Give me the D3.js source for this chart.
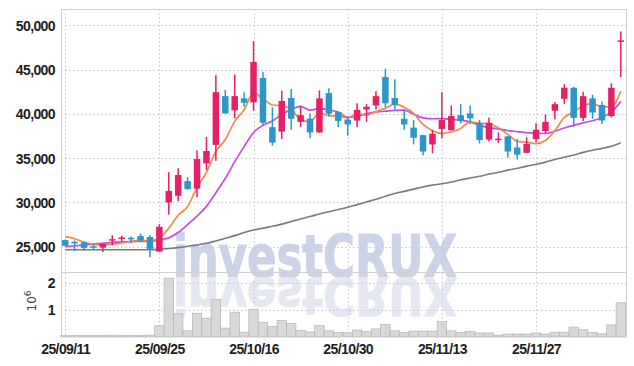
<!DOCTYPE html>
<html>
<head>
<meta charset="utf-8">
<script src="https://cdn.jsdelivr.net/npm/d3@7/dist/d3.min.js"></script>
<style>
  body { margin: 0; background: #fff; }
  svg { display: block; }
</style>
</head>
<body>
<div id="chart"></div>
<script>
// trading days (yy/mm/dd)
var dates = ["25/09/11","25/09/12","25/09/15","25/09/16","25/09/17","25/09/18","25/09/19","25/09/22","25/09/23","25/09/24",
             "25/09/25","25/09/26","25/09/29","25/09/30","25/10/01","25/10/02","25/10/10","25/10/13","25/10/14","25/10/15",
             "25/10/16","25/10/17","25/10/20","25/10/21","25/10/22","25/10/23","25/10/24","25/10/27","25/10/28","25/10/29",
             "25/10/30","25/10/31","25/11/03","25/11/04","25/11/05","25/11/06","25/11/07","25/11/10","25/11/11","25/11/12",
             "25/11/13","25/11/14","25/11/17","25/11/18","25/11/19","25/11/20","25/11/21","25/11/24","25/11/25","25/11/26",
             "25/11/27","25/11/28","25/12/01","25/12/02","25/12/03","25/12/04","25/12/05","25/12/08","25/12/09","25/12/10"];

var open  = [25750,25550,25500,25050,24900,25700,25950,26000,26200,26100,24450,30000,30750,32400,31550,34400,36500,42000,40400,41750,
             41300,44050,38500,38000,41800,39100,39450,37900,42350,40200,39350,39250,40500,40950,44150,41800,39450,38450,37600,36550,
             38300,38150,39850,40050,38950,37100,37150,37450,36200,35600,37150,38050,40350,41700,42950,39550,41750,41000,39750,48200];
var high  = [25800,25700,25550,25300,25350,26300,26250,26150,26500,26300,27550,33400,33850,32850,35900,37400,44350,42700,44450,42450,
             48200,44750,40750,42600,42800,40900,40050,42650,42900,40300,39750,41200,41100,42550,45100,43900,40500,39300,37650,38200,
             42450,40950,41100,40950,39300,39600,37900,37500,37200,37350,38950,39950,41350,43350,43050,42500,42150,41400,43450,49300];
var low   = [25050,24500,24550,24600,24400,25150,25600,25400,25650,23800,24400,28600,30150,31450,30600,33650,34700,40000,39500,40800,
             40350,38650,36400,37150,38200,38500,37250,37850,39700,38500,37550,38500,39100,40500,40750,40500,38200,36550,35300,35550,
             37250,38100,38950,38850,36650,36900,36700,35050,34850,35600,36800,37800,39400,41100,38550,39200,39450,38850,39600,44150];
var close = [25100,25450,24870,24950,25300,25850,26050,25900,25700,24750,27250,31300,33100,31500,34900,35800,42450,40050,42000,41250,
             45850,39000,36750,41450,39450,39850,37900,41750,40000,39200,38800,40450,40800,42000,41200,41000,38800,37300,35750,37750,
             39300,39750,39250,39500,37050,39000,37200,35750,35400,36600,38200,39100,41100,42950,39550,42000,40150,39250,42950,48300];

// volume in millions of shares
var volume = [0.03,0.03,0.03,0.03,0.03,0.05,0.03,0.03,0.03,0.05,0.40,2.16,0.84,0.21,0.86,0.68,1.38,0.31,0.90,0.16,
              1.01,0.53,0.37,0.60,0.49,0.23,0.17,0.40,0.21,0.15,0.14,0.24,0.18,0.28,0.44,0.21,0.15,0.20,0.20,0.20,
              0.55,0.21,0.15,0.18,0.13,0.13,0.05,0.09,0.09,0.09,0.13,0.09,0.16,0.16,0.35,0.25,0.15,0.10,0.43,1.25];

// moving averages as drawn
var ma5  = [26130,25900,25530,25270,25190,25280,25400,25600,25740,25660,26000,27100,28550,29550,31700,33400,35750,37100,39150,40450,
            42400,41700,41000,40900,40550,39350,39100,40100,39800,39750,39550,40050,39850,40250,40650,41100,40750,40050,38800,38100,
            37800,37950,38350,39100,38950,38900,38400,37700,36900,36800,36650,37000,38100,39600,40200,40950,41150,40800,40800,42550];
var ma10 = [25000,25080,25200,25300,25380,25480,25540,25580,25600,25620,25750,26000,26600,27500,28450,29550,31100,32700,34600,36300,
            37900,38700,39200,39950,40480,40850,40420,40600,40450,40200,39600,39700,40030,40200,40300,40400,40420,39950,39550,39450,
            39470,39380,39270,39100,38700,38450,38300,38120,38000,37880,37820,37780,38050,38400,38700,38980,39220,39580,40220,41380];
var ma60 = [24650,24650,24650,24650,24650,24650,24650,24650,24650,24650,24700,24800,24900,25050,25200,25380,25650,25950,26250,26600,
            26880,27100,27300,27550,27850,28130,28400,28700,28950,29200,29450,29750,30050,30350,30700,31000,31250,31500,31750,31950,
            32100,32300,32550,32750,32950,33200,33400,33650,33850,34100,34300,34550,34850,35100,35350,35650,35900,36100,36350,36750];

var priceTicks = [25000, 30000, 35000, 40000, 45000, 50000];
var volTicks = [1, 2];
var dateTicks = ["25/09/11", "25/09/25", "25/10/16", "25/10/30", "25/11/13", "25/11/27"];

var width = 634, height = 366;
var left = 61, right = 626;
var pTop = 9, pBottom = 272, vBottom = 336.5;
var upColor = "#e61f66", downColor = "#2e96c8";
var font = "'Liberation Sans', Arial, sans-serif";

var svg = d3.select("#chart")
            .append("svg")
            .attr("width", width)
            .attr("height", height);

var x = d3.scalePoint().domain(dates).range([65.2, 620.8]);
var y = d3.scaleLinear().domain([22143, 51841]).range([pBottom, pTop]);
var yv = d3.scaleLinear().domain([0, 2.389]).range([vBottom, pBottom]);

// watermark and its reflection
function watermark(g, fill) {
  g.append("text")
   .attr("x", 173).attr("y", 277)
   .attr("textLength", 284).attr("lengthAdjust", "spacingAndGlyphs")
   .style("font-family", "'DejaVu Sans', sans-serif")
   .style("font-weight", "bold").style("font-size", "59px")
   .attr("fill", fill).attr("stroke", fill).attr("stroke-width", 1.2)
   .text("investCRUX");
}
watermark(svg.append("g"), "#cdd3e6");
watermark(svg.append("g").attr("transform", "translate(0,522) scale(1,-0.88)"), "#e6e8f1");

// grid lines
var grid = svg.append("g").attr("stroke", "#c4c8dc").attr("stroke-width", 1).attr("stroke-dasharray", "1.5,2.5");
grid.selectAll(".hg").data(priceTicks).enter().append("line")
    .attr("x1", left).attr("x2", right)
    .attr("y1", function(d) {return Math.round(y(d)) + 0.5;})
    .attr("y2", function(d) {return Math.round(y(d)) + 0.5;});
grid.selectAll(".vg").data(volTicks).enter().append("line")
    .attr("x1", left).attr("x2", right)
    .attr("y1", function(d) {return Math.round(yv(d)) + 0.5;})
    .attr("y2", function(d) {return Math.round(yv(d)) + 0.5;});
grid.selectAll(".xg").data(dateTicks).enter().append("line")
    .attr("y1", pTop).attr("y2", vBottom)
    .attr("x1", function(d) {return Math.round(x(d)) + 0.5;})
    .attr("x2", function(d) {return Math.round(x(d)) + 0.5;});

// volume bars
var bw = x.step();
svg.append("g").selectAll("rect")
   .data(volume).enter().append("rect")
   .attr("x", function(d, i) {return x(dates[i]) - bw / 2;})
   .attr("y", function(d) {return yv(d);})
   .attr("width", bw)
   .attr("height", function(d) {return vBottom - yv(d);})
   .attr("fill", "#d8d8d8")
   .attr("stroke", "#b4b4b4")
   .attr("stroke-width", 0.7);

// moving average lines
function maLine(vals, color, w) {
  var line = d3.line()
               .x(function(d, i) {return x(dates[i]);})
               .y(function(d) {return y(d);})
               .curve(d3.curveMonotoneX);
  svg.append("path")
     .datum(vals)
     .attr("d", line)
     .attr("fill", "none")
     .attr("stroke", color)
     .attr("stroke-width", w);
}
maLine(ma60, "#7a7a7a", 1.6);
maLine(ma10, "#c94be8", 1.7);
maLine(ma5, "#ef8a4c", 1.7);

// candles
var cw = 6.5;
var candles = svg.append("g").selectAll("g")
   .data(dates).enter().append("g");
candles.append("line")
   .attr("x1", function(d) {return x(d);})
   .attr("x2", function(d) {return x(d);})
   .attr("y1", function(d, i) {return y(high[i]);})
   .attr("y2", function(d, i) {return y(low[i]);})
   .attr("stroke", function(d, i) {return close[i] >= open[i] ? upColor : downColor;})
   .attr("stroke-width", 1.5);
candles.append("rect")
   .attr("x", function(d) {return x(d) - cw / 2;})
   .attr("y", function(d, i) {return y(Math.max(open[i], close[i]));})
   .attr("width", cw)
   .attr("height", function(d, i) {return Math.max(1.5, Math.abs(y(open[i]) - y(close[i])));})
   .attr("fill", function(d, i) {return close[i] >= open[i] ? upColor : downColor;});

// panel borders
var border = svg.append("g").attr("fill", "none").attr("stroke", "#cfcfd4").attr("stroke-width", 1);
border.append("rect").attr("x", left + 0.5).attr("y", pTop + 0.5).attr("width", right - left).attr("height", pBottom - pTop);
border.append("rect").attr("x", left + 0.5).attr("y", pBottom + 0.5).attr("width", right - left).attr("height", vBottom - pBottom);

// axes
var yAxis = svg.append("g")
   .attr("transform", "translate(" + (left - 6) + ",0)")
   .call(d3.axisLeft(y).tickValues(priceTicks).tickFormat(d3.format(",")).tickSize(0));
var vAxis = svg.append("g")
   .attr("transform", "translate(" + (left - 6) + ",0)")
   .call(d3.axisLeft(yv).tickValues(volTicks).tickFormat(d3.format("d")).tickSize(0));
var xAxis = svg.append("g")
   .attr("transform", "translate(0," + (vBottom + 4) + ")")
   .call(d3.axisBottom(x).tickValues(dateTicks).tickSize(0));

[yAxis, vAxis, xAxis].forEach(function(a) {
  a.select(".domain").remove();
  a.selectAll("text")
   .style("font-family", font)
   .style("font-weight", "bold")
   .style("font-size", "14px")
   .style("letter-spacing", "-0.6px")
   .attr("fill", "#1e1e1e");
});
yAxis.selectAll("text").attr("x", 0).attr("dy", "0.36em");
vAxis.selectAll("text").attr("x", 0).attr("dy", "0.36em");
xAxis.selectAll("text").attr("y", 4).attr("dy", "0.71em");

// volume unit label
var unit = svg.append("text")
   .attr("transform", "translate(36,301) rotate(-90)")
   .attr("text-anchor", "middle")
   .style("font-family", "'DejaVu Sans', sans-serif")
   .style("font-size", "12px")
   .attr("fill", "#444");
unit.append("tspan").text("10");
unit.append("tspan").attr("dy", "-5").style("font-size", "9px").text("6");
</script>
</body>
</html>
